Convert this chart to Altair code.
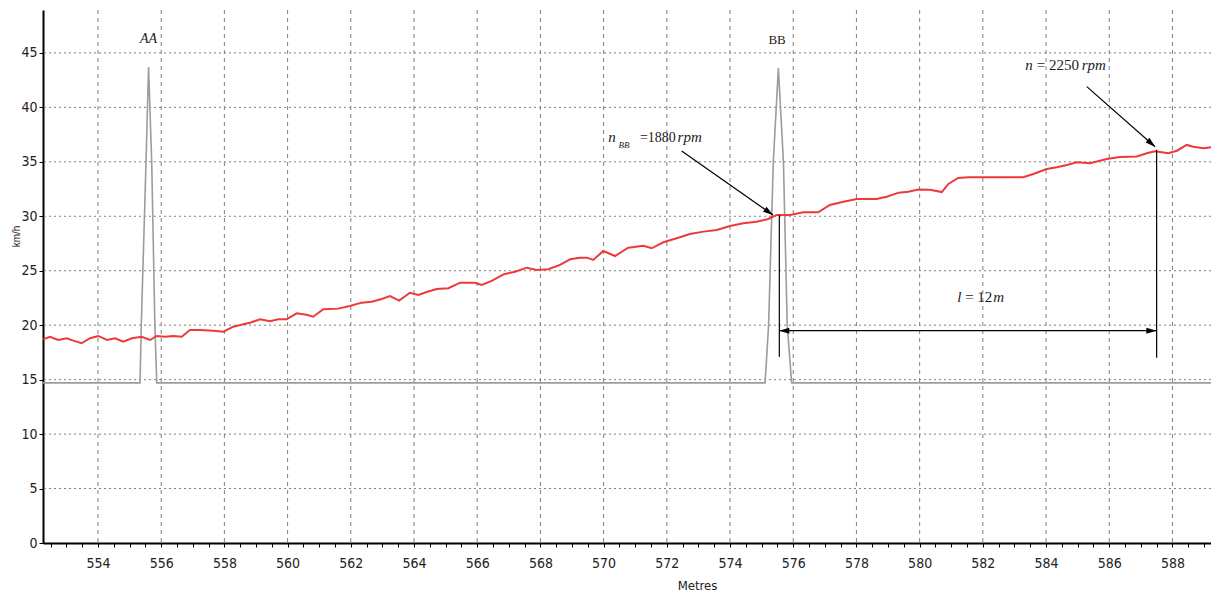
import altair as alt
import pandas as pd

# ---------------- data ----------------
speed_m = [552.27, 552.48, 552.74, 553.01, 553.22, 553.48, 553.75, 554.01, 554.28, 554.54,
           554.80, 555.07, 555.38, 555.65, 555.86, 556.12, 556.38, 556.65, 556.91, 557.23,
           557.65, 557.97, 558.28, 558.60, 558.81, 559.13, 559.44, 559.71, 559.97, 560.29,
           560.60, 560.81, 561.13, 561.60,
           561.97, 562.34, 562.66, 562.98, 563.24, 563.53, 563.87, 564.14, 564.40, 564.72,
           565.09, 565.46, 565.93, 566.14, 566.46, 566.83, 567.20, 567.57, 567.88, 568.25,
           568.62, 568.94, 569.25, 569.47, 569.67, 569.99, 570.36, 570.78,
           571.26, 571.52, 571.89, 572.31, 572.73, 573.16, 573.58, 574.00, 574.42, 574.84,
           575.21, 575.48, 575.90, 576.32, 576.79, 577.16, 577.59, 578.01, 578.64, 578.96,
           579.33, 579.64, 579.96,
           580.33, 580.70, 580.91, 581.22, 581.54, 582.54, 583.28, 583.60, 584.02, 584.34,
           584.66, 584.97, 585.39, 585.92, 586.34, 586.87, 587.19, 587.45, 587.61, 587.87,
           588.14, 588.45, 588.66, 588.98, 589.47]
speed_kmh = [18.71, 18.94, 18.64, 18.80, 18.58, 18.34, 18.80, 19.01, 18.64, 18.80,
             18.48, 18.80, 18.94, 18.64, 19.01, 18.94, 19.01, 18.94, 19.56, 19.56,
             19.49, 19.40, 19.86, 20.08, 20.23, 20.54, 20.36, 20.54, 20.54, 21.09,
             20.96, 20.78, 21.46, 21.52,
             21.76, 22.07, 22.16, 22.41, 22.68, 22.25, 22.98, 22.77, 23.05, 23.32,
             23.39, 23.90, 23.90, 23.69, 24.06, 24.67, 24.91, 25.28, 25.07, 25.13,
             25.53, 26.05, 26.20, 26.20, 25.99, 26.81, 26.35, 27.12,
             27.30, 27.06, 27.61, 27.98, 28.37, 28.59, 28.74, 29.11, 29.36, 29.50,
             29.75, 30.12, 30.12, 30.37, 30.37, 31.04, 31.34, 31.59, 31.59, 31.80,
             32.17, 32.26, 32.45,
             32.43, 32.22, 32.97, 33.52, 33.58, 33.58, 33.58, 33.88, 34.34, 34.50,
             34.71, 34.96, 34.87, 35.26, 35.44, 35.49, 35.79, 35.96, 35.90, 35.79,
             36.02, 36.55, 36.39, 36.24, 36.46]

pulse_m = [552.26, 555.33, 555.37, 555.52, 555.60, 555.70, 555.80, 555.86,
           575.11, 575.22, 575.37, 575.53, 575.69, 575.81, 575.95, 589.47]
pulse_kmh = [14.7, 14.7, 20.0, 35.0, 43.7, 35.0, 20.0, 14.7,
             14.7, 20.0, 35.0, 43.6, 35.0, 20.0, 14.7, 14.7]

x_ticks = [552.5 + 0.5 * i for i in range(74)]
x_grid = [554 + 2 * i for i in range(18)]
y_ticks = [0, 5, 10, 15, 20, 25, 30, 35, 40, 45]
y_grid = [5, 10, 15, 20, 25, 30, 35, 40, 45]

# annotation anchors (data units)
lines_x = [572.47, 585.29, 575.56, 587.50, 575.56]
lines_y = [36.00, 41.90, 30.10, 36.10, 19.50]
lines_x2 = [575.36, 587.45, 575.56, 587.50, 587.49]
lines_y2 = [30.12, 36.39, 17.10, 17.00, 19.50]

head_x = [575.36, 587.45, 575.56, 587.49]
head_y = [30.12, 36.39, 19.50, 19.50]
head_angle = [125, 131, 270, 90]

ital_text = ["n", "rpm", "n", "rpm", "l", "m"]
ital_x = [570.15, 572.34, 583.34, 585.13, 581.19, 582.33]
ital_y = [36.85, 36.85, 43.43, 43.43, 22.16, 22.16]

norm_text = ["= 2250", "= 12"]
norm_x = [583.71, 581.44]
norm_y = [43.43, 22.16]

norm2_text = ["=1880"]
norm2_x = [571.15]
norm2_y = [36.85]

sub_text = ["BB"]
sub_x = [570.47]
sub_y = [36.24]

# ---------------- chart ----------------
xs = alt.Scale(domain=[552.26, 589.22], nice=False, zero=False)
ys = alt.Scale(domain=[0, 48.94], nice=False)

lab_font = "Liberation Sans Narrow, DejaVu Sans Condensed, Liberation Sans"
serif = "Liberation Serif"

x_axis = alt.Axis(
    values=x_ticks,
    tickCount=200,
    labelExpr="datum.value % 2 === 0 ? format(datum.value, 'd') : ''",
    labelOverlap=False,
    grid=False,
    tickSize=4,
    tickColor="black",
    domainColor="black",
    domainWidth=2,
    labelFont=lab_font,
    labelFontSize=14,
    labelColor="#222222",
    labelPadding=9,
    title="Metres",
    titleFont=lab_font,
    titleFontSize=13,
    titleFontWeight="normal",
    titleColor="#222222",
    titleX=654,
    titleY=46,
    titleBaseline="alphabetic",
)

y_axis = alt.Axis(
    values=y_ticks,
    tickCount=20,
    grid=False,
    tickSize=4,
    tickColor="black",
    domainColor="black",
    domainWidth=2,
    labelFont=lab_font,
    labelFontSize=14,
    labelColor="#222222",
    labelPadding=2,
    title="km/h",
    titleFont="Liberation Sans",
    titleFontSize=10,
    titleFontWeight="normal",
    titleColor="#222222",
    titleX=-27,
    titleY=226,
    titleBaseline="middle",
    titleAlign="center",
)

pulse_df = pd.DataFrame({"m": pulse_m, "v": pulse_kmh})
speed_df = pd.DataFrame({"m": speed_m, "v": speed_kmh})

vgrid = alt.Chart(pd.DataFrame({"m": x_grid})).mark_rule(
    color="#808080", strokeWidth=1, strokeDash=[4, 4]
).encode(x=alt.X("m:Q", scale=xs, axis=x_axis))

hgrid = alt.Chart(pd.DataFrame({"v": y_grid})).mark_rule(
    color="#808080", strokeWidth=1, strokeDash=[2, 3]
).encode(y=alt.Y("v:Q", scale=ys, axis=y_axis))

pulse = alt.Chart(pulse_df).mark_line(color="#9c9c9c", strokeWidth=1.6, clip=True).encode(
    x=alt.X("m:Q", scale=xs),
    y=alt.Y("v:Q", scale=ys),
)

speed = alt.Chart(speed_df).mark_line(color="#ec3a3a", strokeWidth=2, clip=True).encode(
    x=alt.X("m:Q", scale=xs),
    y=alt.Y("v:Q", scale=ys),
)

lines = alt.Chart(pd.DataFrame({"m": lines_x, "v": lines_y, "m2": lines_x2, "v2": lines_y2})).mark_rule(
    color="black", strokeWidth=1.2
).encode(
    x=alt.X("m:Q", scale=xs),
    y=alt.Y("v:Q", scale=ys),
    x2="m2:Q",
    y2="v2:Q",
)

heads = alt.Chart(pd.DataFrame({"m": head_x, "v": head_y, "a": head_angle})).mark_point(
    shape="M0,0L0.6,2L-0.6,2Z", filled=True, color="black", opacity=1, size=100, strokeWidth=0
).encode(
    x=alt.X("m:Q", scale=xs),
    y=alt.Y("v:Q", scale=ys),
    angle=alt.Angle("a:Q", scale=None),
)

def text_layer(texts, xv, yv, size, style, align="left"):
    df = pd.DataFrame({"m": xv, "v": yv, "t": texts})
    return alt.Chart(df).mark_text(
        font=serif, fontSize=size, fontStyle=style, align=align, baseline="alphabetic", color="#222222"
    ).encode(
        x=alt.X("m:Q", scale=xs),
        y=alt.Y("v:Q", scale=ys),
        text="t:N",
    )

t_ital = text_layer(ital_text, ital_x, ital_y, 15, "italic")
t_norm = text_layer(norm_text, norm_x, norm_y, 15, "normal")
t_norm2 = text_layer(norm2_text, norm2_x, norm2_y, 14, "normal")
t_sub = text_layer(sub_text, sub_x, sub_y, 9, "italic")
t_aa = text_layer(["AA"], [555.60], [45.94], 14, "italic", "center")
t_bb = text_layer(["BB"], [575.49], [45.80], 13, "normal", "center")

chart = alt.layer(vgrid, hgrid, pulse, speed, lines, heads,
                  t_ital, t_norm, t_norm2, t_sub, t_aa, t_bb).properties(
    width=1168,
    height=533,
    autosize="none",
    padding={"left": 35, "top": 2, "right": 0, "bottom": 50},
    background="white",
).configure_view(stroke=None)

chart.save("out.html", embed_options={"renderer": "svg", "actions": False})
